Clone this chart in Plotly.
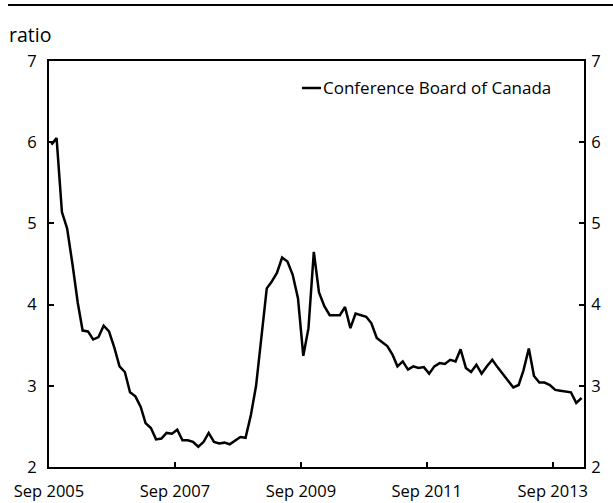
import pandas as pd
import plotly.graph_objects as go

# Monthly ratio, Sep 2005 .. Feb 2014
start_month = "2005-09"
ratio_values = [
    5.97, 6.05, 5.14, 4.94, 4.50, 4.02, 3.68, 3.67, 3.57, 3.60,
    3.74, 3.67, 3.47, 3.24, 3.17, 2.92, 2.87, 2.74, 2.54, 2.48,
    2.34, 2.35, 2.42, 2.41, 2.46, 2.33, 2.33, 2.31, 2.25, 2.31,
    2.42, 2.31, 2.29, 2.30, 2.28, 2.33, 2.37, 2.36, 2.64, 3.00,
    3.58, 4.20, 4.28, 4.39, 4.58, 4.53, 4.37, 4.08, 3.37, 3.71,
    4.65, 4.15, 3.98, 3.87, 3.87, 3.87, 3.97, 3.71, 3.89, 3.87,
    3.85, 3.77, 3.59, 3.54, 3.49, 3.38, 3.24, 3.30, 3.20, 3.24,
    3.22, 3.23, 3.15, 3.24, 3.28, 3.27, 3.32, 3.30, 3.45, 3.22,
    3.17, 3.26, 3.15, 3.24, 3.32, 3.23, 3.15, 3.06, 2.98, 3.01,
    3.19, 3.46, 3.12, 3.04, 3.04, 3.01, 2.95, 2.94, 2.93, 2.92,
    2.79, 2.85,
]
series_name = "Conference Board of Canada"
y_ticks = [2, 3, 4, 5, 6, 7]
x_tick_labels = ["Sep 2005", "Sep 2007", "Sep 2009", "Sep 2011", "Sep 2013"]

# monthly observations plotted at mid-month
dates = pd.date_range(start_month + "-01", periods=len(ratio_values), freq="MS") + pd.Timedelta(days=14)
tick_dates = pd.date_range(start_month + "-01", periods=len(x_tick_labels), freq="24MS")

FONT = "Open Sans"
fig = go.Figure()
fig.add_trace(go.Scatter(x=dates, y=ratio_values, mode="lines", name=series_name,
                         line=dict(color="black", width=2.5), showlegend=False))
fig.add_trace(go.Scatter(x=dates, y=ratio_values, mode="lines", yaxis="y2",
                         line=dict(color="rgba(0,0,0,0)", width=0), showlegend=False,
                         hoverinfo="skip"))

axis_common = dict(range=[2, 7], tickvals=y_ticks, ticks="inside", ticklen=5, tickwidth=2,
                   tickcolor="black", showline=True, linecolor="black", linewidth=2,
                   showgrid=False, zeroline=False, automargin=False,
                   tickfont=dict(family=FONT, size=16.5, color="black"))

fig.update_layout(
    width=613, height=503,
    margin=dict(l=49, r=29, t=61, b=36),
    paper_bgcolor="white", plot_bgcolor="white",
    xaxis=dict(range=[pd.Timestamp(start_month + "-01"), pd.Timestamp("2014-03-01")],
               tickvals=tick_dates, ticktext=x_tick_labels,
               ticks="inside", ticklen=5, tickwidth=2, tickcolor="black",
               showline=True, linecolor="black", linewidth=2, mirror=True,
               showgrid=False, zeroline=False, automargin=False,
               tickfont=dict(family=FONT, size=16.5, color="black"), ticklabelstandoff=8),
    yaxis=dict(**axis_common, side="left", ticklabelstandoff=7),
    yaxis2=dict(**axis_common, side="right", overlaying="y", ticklabelstandoff=2),
    showlegend=False,
)

# top rule and unit label
fig.add_shape(type="line", xref="paper", yref="paper", x0=-41/535, x1=564/535,
              y0=1 + 56/406, y1=1 + 56/406, line=dict(color="black", width=2))
fig.add_annotation(text="ratio", xref="paper", yref="paper", x=-42/535, y=1 + 26/406,
                   xanchor="left", yanchor="middle", showarrow=False,
                   font=dict(family=FONT, size=19.5, color="black"))

# legend key
legend_y = (467 - 88) / 406
fig.add_shape(type="line", xref="paper", yref="paper", x0=253/535, x1=272/535,
              y0=legend_y, y1=legend_y, line=dict(color="black", width=2.5))
fig.add_annotation(text=series_name, xref="paper", yref="paper", x=272/535, y=legend_y,
                   xanchor="left", yanchor="middle", showarrow=False,
                   font=dict(family=FONT, size=17, color="black"))

fig.write_html("out.html", config={"displayModeBar": False},
               post_script="document.body.style.margin='0';")
